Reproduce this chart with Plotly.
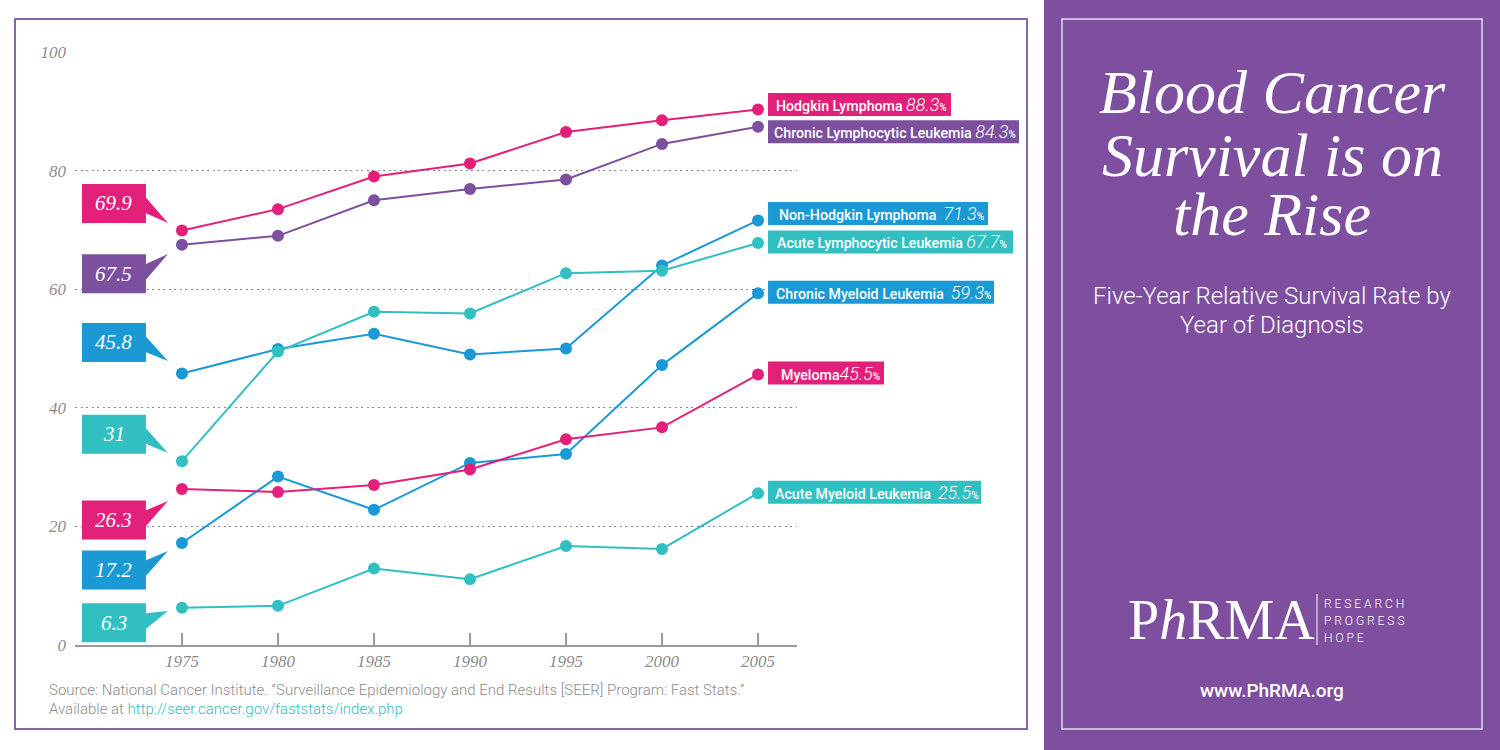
import plotly.graph_objects as go

W, H = 1500, 750

# ---------------- data ----------------
years = [1975, 1980, 1985, 1990, 1995, 2000, 2005]
year_labels = ["1975", "1980", "1985", "1990", "1995", "2000", "2005"]

hodgkin = [69.9, 73.5, 79.0, 81.2, 86.5, 88.5, 90.3]
cll = [67.5, 69.0, 75.0, 76.9, 78.5, 84.5, 87.4]
nhl = [45.8, 49.9, 52.5, 49.0, 50.0, 64.0, 71.6]
all_ = [31.0, 49.5, 56.2, 55.9, 62.7, 63.1, 67.8]
cml = [17.2, 28.4, 22.8, 30.7, 32.2, 47.2, 59.3]
myeloma = [26.3, 25.8, 27.0, 29.6, 34.7, 36.7, 45.6]
aml = [6.3, 6.6, 12.9, 11.1, 16.7, 16.2, 25.6]

series_names = ["Hodgkin Lymphoma", "Chronic Lymphocytic Leukemia", "Non-Hodgkin Lymphoma",
                "Acute Lymphocytic Leukemia", "Chronic Myeloid Leukemia", "Myeloma",
                "Acute Myeloid Leukemia"]
series_values = [hodgkin, cll, nhl, all_, cml, myeloma, aml]
start_labels = ["69.9", "67.5", "45.8", "31", "17.2", "26.3", "6.3"]
end_labels = ["88.3", "84.3", "71.3", "67.7", "59.3", "45.5", "25.5"]
name_sep = [" ", " ", "  ", " ", "  ", "", "  "]

y_ticks = [0, 20, 40, 60, 80, 100]
y_tick_labels = ["0", "20", "40", "60", "80", "100"]

# ---------------- style ----------------
PINK = "#E2207A"
PURPLE = "#7D4F9F"
BLUE = "#1A99D5"
TEAL = "#31BFC2"
colors = [PINK, PURPLE, BLUE, TEAL, BLUE, PINK, TEAL]
GRAY = "#8c8c8c"
PANEL = "#7E4F9E"

# right-hand label boxes: width (px), vertical nudge (px, up), text padding
end_box_w = [183, 251, 220, 245, 226, 116, 213]
end_nudge = [5, -5, 7, 1, 1, 1.5, 1]
end_text_pad = [6, 4, 9, 7, 6, 11, 5]
# left callouts: box centre offset from first point (px, up), tip offset (px, up)
start_box_off = [27, -29, 31, 27, -27, -31, -15]
start_tip_off = [7.5, -9.3, 12.4, 8.2, -8, -12, -3.4]

# axis geometry (pixels)
X_PX = (75, 797)
Y_PX = (645, 52)
X_RANGE = (1969.43, 2007.03)
Y_RANGE = (0, 100)


def px(x):
    return x / W


def py(y):
    return 1 - y / H


def xpaper(v):
    f = (v - X_RANGE[0]) / (X_RANGE[1] - X_RANGE[0])
    return px(X_PX[0] + f * (X_PX[1] - X_PX[0]))


def ypaper(v):
    f = (v - Y_RANGE[0]) / (Y_RANGE[1] - Y_RANGE[0])
    return py(Y_PX[0] + f * (Y_PX[1] - Y_PX[0]))


fig = go.Figure()

for name, vals, col in zip(series_names, series_values, colors):
    fig.add_trace(go.Scatter(
        x=years, y=vals, mode="lines+markers", name=name,
        line=dict(color=col, width=2),
        marker=dict(color=col, size=12),
        hoverinfo="skip", showlegend=False, cliponaxis=False,
    ))

shapes = []
annotations = []

# background frames
shapes.append(dict(type="rect", xref="paper", yref="paper", x0=px(15), x1=px(1027), y0=py(19), y1=py(729),
                   line=dict(color="#8B63A9", width=2), fillcolor="rgba(0,0,0,0)", layer="below"))
shapes.append(dict(type="rect", xref="paper", yref="paper", x0=px(1044), x1=1, y0=0, y1=1,
                   line=dict(width=0), fillcolor=PANEL, layer="below"))
shapes.append(dict(type="rect", xref="paper", yref="paper", x0=px(1062), x1=px(1482), y0=py(19), y1=py(729),
                   line=dict(color="#E6DCF0", width=1.5), fillcolor="rgba(0,0,0,0)", layer="below"))

# right-hand labels
for i, (name, vals, col) in enumerate(zip(series_names, series_values, colors)):
    xa = xpaper(years[-1])
    ya = ypaper(vals[-1])
    nud = end_nudge[i]
    shapes.append(dict(type="rect", xref="paper", yref="paper", xsizemode="pixel", ysizemode="pixel",
                       xanchor=xa, yanchor=ya, x0=10, x1=10 + end_box_w[i],
                       y0=nud - 11.5, y1=nud + 11.5, line=dict(width=0), fillcolor=col, layer="above"))
    txt = (f"{name}{name_sep[i]}<span style='font-size:18px;font-weight:300'><i>{end_labels[i]}</i></span>"
           f"<span style='font-size:10px'>%</span>")
    annotations.append(dict(x=xa, y=ya, xref="paper", yref="paper", xanchor="left", yanchor="middle",
                            xshift=10 + end_text_pad[i], yshift=nud, showarrow=False, text=txt,
                            font=dict(family="Roboto", size=14.2, color="white", weight=500)))

# left callouts
for i, (vals, col) in enumerate(zip(series_values, colors)):
    xa = xpaper(years[0])
    ya = ypaper(vals[0])
    off = start_box_off[i]
    tip = start_tip_off[i]
    shapes.append(dict(type="rect", xref="paper", yref="paper", xsizemode="pixel", ysizemode="pixel",
                       xanchor=xa, yanchor=ya, x0=-100, x1=-36,
                       y0=off - 19.5, y1=off + 19.5, line=dict(width=0), fillcolor=col, layer="above"))
    if off > 0:
        a, b = off + 6.5, off - 9.5
    else:
        a, b = off - 6.5, off + 9.5
    shapes.append(dict(type="path", xref="paper", yref="paper", xsizemode="pixel", ysizemode="pixel",
                       xanchor=xa, yanchor=ya,
                       path=f"M -36.5,{a} L -14,{tip} L -36.5,{b} Z",
                       line=dict(width=0), fillcolor=col, layer="above"))
    annotations.append(dict(x=xa, y=ya, xref="paper", yref="paper", xanchor="center", yanchor="middle",
                            xshift=-68, yshift=off, showarrow=False, text=f"<i>{start_labels[i]}</i>",
                            font=dict(family="Liberation Serif", size=21, color="white")))

# title panel
title_lines = ["Blood Cancer", "Survival is on", "the Rise"]
title_y = [92, 155, 214]
for t, yy in zip(title_lines, title_y):
    annotations.append(dict(x=px(1272), y=py(yy), xref="paper", yref="paper", xanchor="center",
                            yanchor="middle", showarrow=False, text=f"<i>{t}</i>", height=58,
                            font=dict(family="Liberation Serif", size=62, color="white")))
sub_lines = ["Five-Year Relative Survival Rate by", "Year of Diagnosis"]
sub_y = [296, 325]
for t, yy in zip(sub_lines, sub_y):
    annotations.append(dict(x=px(1272), y=py(yy), xref="paper", yref="paper", xanchor="center",
                            yanchor="middle", showarrow=False, text=t,
                            font=dict(family="Roboto", size=24, color="white", weight=300)))

# logo
annotations.append(dict(x=px(1221), y=py(620), xref="paper", yref="paper", xanchor="center",
                        yanchor="middle", showarrow=False, text="P<i>h</i>RMA",
                        font=dict(family="Liberation Serif", size=56, color="white")))
shapes.append(dict(type="line", xref="paper", yref="paper", x0=px(1317), x1=px(1317),
                   y0=py(594), y1=py(645), line=dict(color="white", width=1)))
for t, yy in zip(["R E S E A R C H", "P R O G R E S S", "H O P E"], [604, 621, 638]):
    annotations.append(dict(x=px(1322), y=py(yy), xref="paper", yref="paper", xanchor="left",
                            yanchor="middle", showarrow=False, text=t,
                            font=dict(family="Roboto", size=12, color="white", weight=300)))
annotations.append(dict(x=px(1272), y=py(690), xref="paper", yref="paper", xanchor="center",
                        yanchor="middle", showarrow=False, text="www.PhRMA.org",
                        font=dict(family="Roboto", size=19, color="white", weight=500)))

# source
annotations.append(dict(x=px(47), y=py(690), xref="paper", yref="paper", xanchor="left",
                        yanchor="middle", showarrow=False,
                        text="Source: National Cancer Institute. \u201cSurveillance Epidemiology and End Results [SEER] Program: Fast Stats.\u201d",
                        font=dict(family="Roboto", size=15, color=GRAY, weight=300)))
annotations.append(dict(x=px(47), y=py(709), xref="paper", yref="paper", xanchor="left",
                        yanchor="middle", showarrow=False,
                        text="Available at <span style='color:#35BCC1'>http://seer.cancer.gov/faststats/index.php</span>",
                        font=dict(family="Roboto", size=15, color=GRAY, weight=300)))

fig.update_layout(
    width=W, height=H, autosize=False,
    margin=dict(l=0, r=0, t=0, b=0, pad=0, autoexpand=False),
    paper_bgcolor="white", plot_bgcolor="rgba(0,0,0,0)",
    shapes=shapes, annotations=annotations,
    xaxis=dict(domain=[px(X_PX[0]), px(X_PX[1])], range=list(X_RANGE), autorange=False, automargin=False,
               tickvals=years, ticktext=year_labels, ticks="inside", ticklen=12, tickwidth=2,
               tickcolor="#9a9a9a", showline=True, linecolor="#9a9a9a", linewidth=2,
               showgrid=False, zeroline=False, ticklabelstandoff=0,
               tickfont=dict(family="Liberation Serif", size=17, color=GRAY, style="italic")),
    yaxis=dict(domain=[py(Y_PX[0]), py(Y_PX[1])], range=list(Y_RANGE), autorange=False, automargin=False,
               tickvals=y_ticks, ticktext=y_tick_labels, ticks="", showline=False,
               showgrid=True, griddash="2px,3.5px", gridcolor="#8a8a8a", gridwidth=1,
               zeroline=False, ticklabelstandoff=8,
               tickfont=dict(family="Liberation Serif", size=17, color=GRAY, style="italic")),
)

fig.write_html("out.html")
